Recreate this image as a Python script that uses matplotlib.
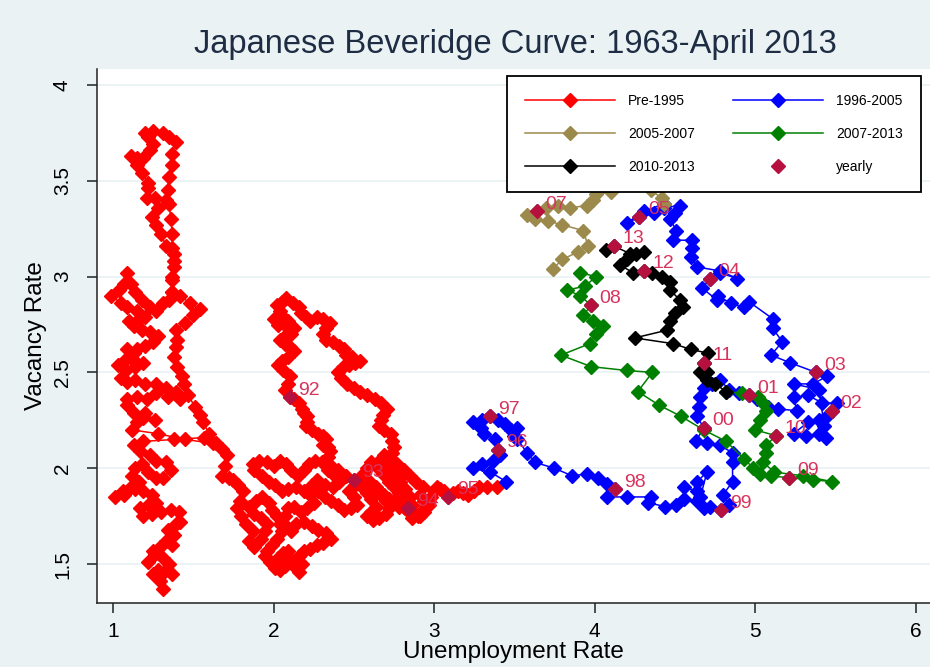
import numpy as np
import matplotlib
matplotlib.use("Agg")
import matplotlib.pyplot as plt

plt.rcParams['font.family'] = ['Liberation Sans', 'DejaVu Sans']

# (unemployment rate, vacancy rate), in time order
pre1995 = [
    # 1963-1974
    (1.31, 1.37), (1.29, 1.41), (1.25, 1.45), (1.28, 1.47), (1.32, 1.46), (1.37, 1.45),
    (1.35, 1.50), (1.31, 1.53), (1.26, 1.55), (1.22, 1.51), (1.25, 1.57), (1.29, 1.59),
    (1.33, 1.62), (1.37, 1.60), (1.38, 1.65), (1.34, 1.68), (1.39, 1.71), (1.42, 1.72),
    (1.41, 1.77), (1.36, 1.78), (1.30, 1.77), (1.24, 1.76), (1.19, 1.75), (1.17, 1.79),
    (1.22, 1.81), (1.27, 1.82), (1.24, 1.86), (1.19, 1.88), (1.14, 1.89), (1.07, 1.86),
    (1.01, 1.85), (1.06, 1.88), (1.11, 1.90), (1.16, 1.93), (1.12, 1.96), (1.14, 2.00),
    (1.18, 2.02), (1.22, 1.98), (1.27, 1.95), (1.31, 1.95), (1.36, 1.99), (1.33, 2.03),
    (1.27, 2.04), (1.23, 2.07), (1.17, 2.09), (1.13, 2.12), (1.19, 2.14), (1.38, 2.15),
    (1.57, 2.16), (1.62, 2.13), (1.45, 2.15), (1.28, 2.18), (1.12, 2.20), (1.15, 2.24),
    (1.19, 2.26), (1.26, 2.25), (1.20, 2.29), (1.13, 2.29), (1.09, 2.33), (1.09, 2.36),
    (1.15, 2.37), (1.21, 2.36), (1.27, 2.39), (1.34, 2.37), (1.42, 2.36), (1.39, 2.40),
    (1.33, 2.42), (1.27, 2.44), (1.20, 2.44), (1.14, 2.46), (1.09, 2.45), (1.05, 2.47),
    (1.08, 2.51), (1.03, 2.54), (1.07, 2.56), (1.12, 2.57), (1.14, 2.53), (1.19, 2.55),
    (1.13, 2.60), (1.09, 2.62), (1.15, 2.62), (1.20, 2.64), (1.25, 2.66), (1.28, 2.69),
    (1.23, 2.71), (1.18, 2.72), (1.13, 2.74), (1.10, 2.77), (1.16, 2.78), (1.20, 2.79),
    (1.15, 2.82), (1.09, 2.84), (1.05, 2.86), (0.99, 2.90), (1.04, 2.93), (1.07, 2.96),
    (1.09, 3.02), (1.11, 2.96), (1.14, 2.92), (1.18, 2.88), (1.23, 2.84), (1.27, 2.82),
    (1.31, 2.86), (1.35, 2.88), (1.37, 2.92), (1.37, 2.98), (1.38, 3.05), (1.38, 3.12),
    (1.33, 3.16), (1.30, 3.22), (1.27, 3.27), (1.24, 3.31), (1.28, 3.36), (1.33, 3.40),
    (1.26, 3.41), (1.21, 3.41), (1.22, 3.46), (1.22, 3.49), (1.18, 3.54), (1.15, 3.58),
    (1.11, 3.63), (1.15, 3.62), (1.19, 3.62), (1.23, 3.66), (1.25, 3.69), (1.22, 3.73),
    (1.20, 3.75), (1.25, 3.76), (1.31, 3.75), (1.35, 3.73), (1.39, 3.70), (1.37, 3.64),
    (1.37, 3.58), (1.35, 3.52), (1.34, 3.45), (1.35, 3.38), (1.36, 3.30), (1.37, 3.22),
    (1.37, 3.15), (1.38, 3.08), (1.37, 3.00), (1.37, 2.92), (1.42, 2.90), (1.48, 2.86),
    (1.54, 2.83), (1.50, 2.80), (1.45, 2.76), (1.39, 2.72), (1.40, 2.67), (1.39, 2.63),
    (1.38, 2.58), (1.40, 2.53), (1.43, 2.48), (1.44, 2.44), (1.47, 2.38), (1.51, 2.32),
    (1.54, 2.28), (1.56, 2.24), (1.60, 2.18), (1.64, 2.13), (1.68, 2.10), (1.71, 2.07),
    (1.70, 2.01), (1.68, 1.96), (1.72, 1.95), (1.75, 1.94), (1.78, 1.91), (1.81, 1.88),
    (1.79, 1.83), (1.77, 1.79), (1.80, 1.75), (1.83, 1.71),
    # 1975-1980
    (1.87, 1.67), (1.85, 1.62), (1.88, 1.59), (1.92, 1.63), (1.95, 1.67), (1.96, 1.71),
    (1.92, 1.74), (1.88, 1.76), (1.85, 1.80), (1.89, 1.83), (1.93, 1.85), (1.97, 1.82),
    (1.99, 1.78), (2.02, 1.75), (2.04, 1.71), (2.05, 1.67), (2.02, 1.63), (1.99, 1.60),
    (1.96, 1.57), (1.95, 1.54), (1.98, 1.51), (2.01, 1.48), (2.04, 1.47), (2.07, 1.49),
    (2.03, 1.53), (2.06, 1.56), (2.09, 1.57), (2.11, 1.52), (2.13, 1.49), (2.16, 1.46),
    (2.18, 1.50), (2.16, 1.54), (2.19, 1.57), (2.23, 1.58), (2.27, 1.60), (2.31, 1.61),
    (2.36, 1.63), (2.33, 1.66), (2.28, 1.68), (2.24, 1.70), (2.19, 1.72), (2.14, 1.71),
    (2.11, 1.67), (2.08, 1.70), (2.07, 1.75), (2.09, 1.79), (2.13, 1.80), (2.17, 1.77),
    (2.21, 1.79), (2.25, 1.82), (2.23, 1.86), (2.19, 1.88), (2.14, 1.90), (2.09, 1.89),
    (2.05, 1.88), (2.01, 1.91), (1.97, 1.93), (1.93, 1.96), (1.88, 1.99), (1.87, 2.02),
    (1.91, 2.04), (1.96, 2.03), (2.00, 2.01), (2.04, 2.04), (2.08, 2.02), (2.11, 1.99),
    (2.15, 1.96), (2.19, 1.99), (2.22, 2.02), (2.26, 2.04), (2.30, 2.03), (2.34, 1.99),
    (2.38, 1.96), (2.41, 1.93), (2.37, 1.90), (2.32, 1.91), (2.27, 1.94), (2.24, 1.91),
    # 1980-1987
    (2.28, 1.88), (2.32, 1.85), (2.36, 1.83), (2.40, 1.81), (2.44, 1.78), (2.48, 1.79),
    (2.52, 1.81), (2.50, 1.85), (2.47, 1.88), (2.51, 1.91), (2.55, 1.90), (2.58, 1.87),
    (2.61, 1.84), (2.64, 1.80), (2.61, 1.77), (2.58, 1.75), (2.62, 1.73), (2.66, 1.74),
    (2.70, 1.76), (2.72, 1.79), (2.70, 1.83), (2.67, 1.86), (2.64, 1.90), (2.60, 1.93),
    (2.56, 1.97), (2.58, 2.00), (2.61, 2.03), (2.65, 2.00), (2.68, 1.97), (2.72, 1.93),
    (2.75, 1.90), (2.78, 1.87), (2.76, 1.83), (2.78, 1.80), (2.82, 1.79), (2.86, 1.81),
    (2.85, 1.85), (2.82, 1.89), (2.79, 1.93), (2.75, 1.97), (2.71, 2.00), (2.66, 2.04),
    (2.69, 2.07), (2.73, 2.05), (2.77, 2.02), (2.81, 1.99), (2.85, 1.96), (2.89, 1.93),
    (2.93, 1.90), (2.91, 1.86), (2.94, 1.83), (2.97, 1.81), (2.94, 1.77), (2.90, 1.75),
    (2.86, 1.74), (2.83, 1.78), (2.81, 1.84), (2.80, 1.90), (2.78, 1.95), (2.76, 2.00),
    (2.74, 2.04),
    # 1987-1995
    (2.74, 2.08), (2.75, 2.11), (2.74, 2.14), (2.73, 2.18), (2.69, 2.20), (2.66, 2.22),
    (2.67, 2.25), (2.68, 2.28), (2.71, 2.31), (2.67, 2.34), (2.63, 2.36), (2.58, 2.38),
    (2.54, 2.40), (2.50, 2.42), (2.46, 2.44), (2.42, 2.47), (2.40, 2.50), (2.43, 2.53),
    (2.47, 2.54), (2.51, 2.55), (2.54, 2.56), (2.49, 2.58), (2.45, 2.59), (2.44, 2.62),
    (2.41, 2.64), (2.37, 2.66), (2.33, 2.67), (2.31, 2.70), (2.33, 2.73), (2.35, 2.76),
    (2.31, 2.78), (2.27, 2.79), (2.23, 2.77), (2.20, 2.79), (2.17, 2.81), (2.16, 2.84),
    (2.12, 2.86), (2.08, 2.89), (2.05, 2.87), (2.02, 2.85), (2.04, 2.82), (2.06, 2.79),
    (2.09, 2.77), (2.04, 2.78), (2.00, 2.78), (2.03, 2.75), (2.08, 2.74), (2.13, 2.73),
    (2.11, 2.70), (2.07, 2.69), (2.04, 2.67), (2.07, 2.65), (2.10, 2.63), (2.13, 2.61),
    (2.09, 2.58), (2.05, 2.56), (2.03, 2.54), (2.06, 2.51), (2.10, 2.48), (2.09, 2.44),
    (2.07, 2.41), (2.10, 2.37), (2.13, 2.36), (2.16, 2.34), (2.18, 2.31), (2.19, 2.29),
    (2.21, 2.27), (2.21, 2.24), (2.20, 2.22), (2.24, 2.20), (2.28, 2.18), (2.31, 2.17),
    (2.33, 2.15), (2.31, 2.12), (2.34, 2.11), (2.35, 2.09), (2.34, 2.06), (2.32, 2.04),
    (2.36, 2.01), (2.40, 1.99), (2.45, 1.96), (2.50, 1.94), (2.54, 1.93), (2.58, 1.92),
    (2.61, 1.90), (2.65, 1.88), (2.69, 1.86), (2.72, 1.84), (2.75, 1.83), (2.78, 1.82),
    (2.81, 1.80), (2.84, 1.79), (2.88, 1.76), (2.91, 1.75), (2.93, 1.78), (2.95, 1.80),
    (2.97, 1.83), (2.98, 1.85), (3.00, 1.88), (3.02, 1.90), (3.04, 1.89), (3.06, 1.88),
    (3.09, 1.85), (3.12, 1.87), (3.15, 1.88), (3.18, 1.87), (3.21, 1.86), (3.25, 1.88),
    (3.28, 1.90), (3.33, 1.90), (3.39, 1.90),
]

s1996_2005 = [
    (3.45, 1.93), (3.35, 1.98), (3.24, 2.00), (3.30, 2.02), (3.37, 2.04), (3.41, 2.07),
    (3.40, 2.095), (3.38, 2.15), (3.31, 2.18), (3.29, 2.21), (3.24, 2.24), (3.30, 2.25),
    (3.35, 2.27), (3.40, 2.25), (3.44, 2.23), (3.48, 2.20), (3.52, 2.21), (3.50, 2.17),
    (3.52, 2.15), (3.58, 2.08), (3.63, 2.03), (3.75, 2.00), (3.86, 1.96), (3.95, 1.97),
    (4.02, 1.95), (4.08, 1.92), (4.13, 1.89), (4.08, 1.85), (4.20, 1.85), (4.35, 1.85),
    (4.33, 1.82), (4.44, 1.80), (4.51, 1.81), (4.56, 1.84), (4.56, 1.90), (4.64, 1.88),
    (4.64, 1.93), (4.70, 1.98), (4.66, 1.85), (4.64, 1.83), (4.68, 1.79), (4.72, 1.80),
    (4.79, 1.78), (4.84, 1.81), (4.80, 1.86), (4.86, 1.93), (4.86, 2.03), (4.86, 2.08),
    (4.78, 2.12), (4.70, 2.13), (4.63, 2.14), (4.68, 2.21), (4.64, 2.27), (4.65, 2.32),
    (4.66, 2.37), (4.68, 2.42), (4.73, 2.44), (4.78, 2.46), (4.84, 2.41), (4.90, 2.39),
    (4.96, 2.38), (5.01, 2.36), (5.08, 2.32), (5.14, 2.31), (5.26, 2.30), (5.24, 2.37),
    (5.33, 2.38), (5.42, 2.34), (5.51, 2.34), (5.48, 2.30), (5.45, 2.27), (5.40, 2.25),
    (5.33, 2.24), (5.24, 2.18), (5.32, 2.17), (5.40, 2.18), (5.44, 2.16), (5.43, 2.22),
    (5.40, 2.41), (5.24, 2.44), (5.36, 2.44), (5.45, 2.48), (5.38, 2.50), (5.22, 2.55),
    (5.10, 2.59), (5.17, 2.66), (5.11, 2.73), (5.11, 2.78), (4.96, 2.87), (4.93, 2.84),
    (4.85, 2.86), (4.77, 2.90), (4.76, 2.88), (4.67, 2.94), (4.72, 2.99), (4.78, 3.02),
    (4.89, 2.99), (4.78, 3.03), (4.64, 3.05), (4.60, 3.10), (4.61, 3.15), (4.61, 3.19),
    (4.49, 3.19), (4.51, 3.24), (4.47, 3.30), (4.50, 3.33), (4.53, 3.37), (4.43, 3.36),
    (4.37, 3.33), (4.28, 3.31), (4.20, 3.28), (4.31, 3.34), (4.43, 3.38),
]

s2005_2007 = [
    (4.43, 3.38), (4.42, 3.41), (4.35, 3.45), (4.25, 3.50), (4.15, 3.52), (4.05, 3.48),
    (4.10, 3.44), (4.01, 3.43), (3.99, 3.40), (3.95, 3.37), (3.85, 3.36), (3.77, 3.37),
    (3.70, 3.36), (3.64, 3.34), (3.58, 3.32), (3.63, 3.30), (3.71, 3.29), (3.80, 3.27),
    (3.93, 3.24), (3.96, 3.16), (3.90, 3.13), (3.80, 3.09), (3.74, 3.04),
]

s2007_2013 = [
    (3.91, 3.02), (4.01, 3.00), (3.94, 2.95), (3.83, 2.93), (3.91, 2.90), (3.98, 2.85),
    (3.93, 2.80), (3.99, 2.77), (4.05, 2.74), (4.01, 2.70), (3.97, 2.65), (3.79, 2.59),
    (3.98, 2.53), (4.20, 2.51), (4.36, 2.50), (4.27, 2.40), (4.40, 2.33), (4.54, 2.27),
    (4.68, 2.20), (4.82, 2.14), (4.93, 2.05), (4.99, 2.00), (5.03, 1.97), (5.10, 1.96),
    (5.21, 1.95), (5.36, 1.94), (5.48, 1.93), (5.30, 1.96), (5.12, 1.98), (5.05, 2.03),
    (5.07, 2.08), (5.07, 2.12), (5.13, 2.17), (5.00, 2.20), (5.03, 2.25), (5.07, 2.30),
    (5.05, 2.34), (5.02, 2.37), (4.92, 2.39), (4.82, 2.40),
]

s2010_2013 = [
    (4.82, 2.40), (4.75, 2.44), (4.70, 2.46), (4.66, 2.50), (4.70, 2.50), (4.68, 2.55),
    (4.71, 2.60), (4.60, 2.62), (4.49, 2.65), (4.25, 2.68), (4.45, 2.72), (4.47, 2.77),
    (4.50, 2.81), (4.55, 2.84), (4.53, 2.88), (4.47, 2.93), (4.47, 2.97), (4.42, 3.00),
    (4.36, 3.02), (4.31, 3.03), (4.24, 3.02), (4.16, 3.06), (4.20, 3.09), (4.26, 3.12),
    (4.31, 3.13), (4.22, 3.12), (4.12, 3.16), (4.07, 3.14),
]

year_labels = ['92', '93', '94', '95', '96', '97', '98', '99', '00', '01', '02',
               '03', '04', '05', '07', '08', '09', '10', '11', '12', '13']
year_u = [2.10, 2.50, 2.84, 3.09, 3.40, 3.35, 4.13, 4.79, 4.68, 4.96, 5.48,
          5.38, 4.72, 4.28, 3.64, 3.98, 5.21, 5.13, 4.68, 4.31, 4.12]
year_v = [2.37, 1.94, 1.79, 1.85, 2.095, 2.27, 1.89, 1.78, 2.21, 2.38, 2.30,
          2.50, 2.99, 3.31, 3.34, 2.85, 1.95, 2.17, 2.55, 3.03, 3.16]

series = [
    (pre1995, 'Pre-1995', '#ff0000'),
    (s1996_2005, '1996-2005', '#0000ff'),
    (s2005_2007, '2005-2007', '#9c8a4c'),
    (s2007_2013, '2007-2013', '#008000'),
    (s2010_2013, '2010-2013', '#000000'),
]

bg = '#eaf2f3'
fig = plt.figure(figsize=(9.3, 6.67), dpi=100, facecolor=bg)
ax = fig.add_axes([97 / 930, 1 - 603 / 667, 833 / 930, 534 / 667])
ax.set_facecolor('white')

handles = {}
for pts, lab, col in series:
    u, v = zip(*pts)
    handles[lab], = ax.plot(u, v, color=col, lw=1.1, marker='D', ms=7, mec=col,
                            mfc=col, label=lab, zorder=2)

handles['yearly'], = ax.plot(year_u, year_v, ls='none', marker='D', ms=7,
                             color='#b5103e', label='yearly', zorder=3)
for t, u, v in zip(year_labels, year_u, year_v):
    ax.annotate(t, (u, v), xytext=(6, 2), textcoords='offset points',
                ha='left', va='baseline', fontsize=14, color='#d8335c', zorder=3)

ax.set_xlim(0.9003, 6.090)
ax.set_ylim(1.2965, 4.0835)
ax.set_xticks([1, 2, 3, 4, 5, 6])
ax.set_yticks([1.5, 2, 2.5, 3, 3.5, 4])
ax.set_yticklabels(['1.5', '2', '2.5', '3', '3.5', '4'], rotation=90, va='center')
ax.yaxis.grid(True, color=bg, lw=1.3, zorder=0)
ax.set_axisbelow(True)
for s in ['top', 'right']:
    ax.spines[s].set_visible(False)
for s in ['left', 'bottom']:
    ax.spines[s].set_linewidth(1.1)
    ax.spines[s].set_color('#222222')
ax.tick_params(axis='both', labelsize=15, length=7, width=1.1, color='#222222')
ax.tick_params(axis='x', pad=7)
ax.tick_params(axis='y', pad=11)

ax.set_xlabel('Unemployment Rate', fontsize=17.5, labelpad=0)
ax.set_ylabel('Vacancy Rate', fontsize=17.5, labelpad=4)
fig.text(515 / 930, 1 - 45 / 667, 'Japanese Beveridge Curve: 1963-April 2013',
         ha='center', va='center', fontsize=23.5, color='#1e2d44')

# legend filled column by column, so this order reads row by row
order = ['Pre-1995', '2005-2007', '2010-2013', '1996-2005', '2007-2013', 'yearly']
leg = ax.legend([handles[k] for k in order], order, ncol=2, loc='upper right',
                bbox_to_anchor=(0.9892, 0.9869), borderaxespad=0, fontsize=10,
                handlelength=6.5, handletextpad=0.95, columnspacing=2.7,
                labelspacing=1.35, borderpad=1.3, fancybox=False, framealpha=1,
                edgecolor='black')
leg.get_frame().set_linewidth(1.3)
leg.set_zorder(10)

fig.savefig('out.png', dpi=100, facecolor=bg)
